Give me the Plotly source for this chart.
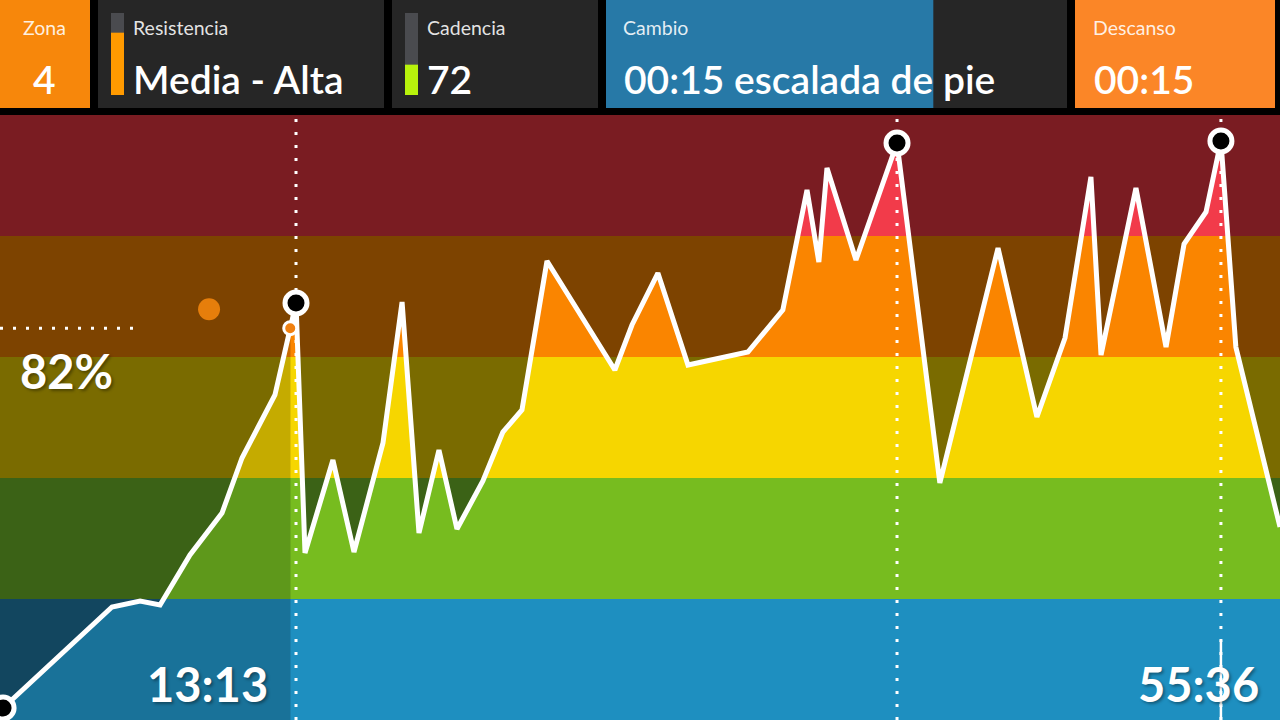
import plotly.graph_objects as go
import numpy as np

# ---------------- data ----------------
# elapsed time (minutes) and intensity (0-100 scale, 5 zones of 20)
time_min = [0.14, 5.10, 6.38, 7.29, 8.65, 10.11, 11.02, 12.52, 13.48, 13.89,
            15.16, 16.12, 17.44, 18.31, 19.08, 19.99, 20.81, 21.99, 22.90, 23.77,
            24.91, 28.00, 28.78, 29.96, 31.33, 34.06, 35.65, 36.75, 37.29, 37.66,
            38.98, 40.85, 42.80, 45.45, 47.22, 48.50, 49.68, 50.14, 51.73, 53.10,
            53.92, 54.92, 55.60, 56.28, 58.29]
intensity = [1.98, 18.68, 19.67, 19.01, 27.27, 34.21, 43.31, 53.72, 68.93, 27.60,
             42.98, 27.77, 45.79, 69.09, 30.91, 44.63, 31.57, 39.50, 47.60, 51.24,
             75.87, 57.85, 65.29, 73.88, 58.68, 60.83, 67.77, 87.60, 75.70, 91.24,
             76.03, 95.37, 39.17, 78.02, 50.08, 63.14, 89.75, 60.33, 87.93, 61.65,
             78.68, 83.97, 95.70, 61.65, 31.90]
marked_idx = [0, 8, 31, 42]          # highlighted points (start + peaks)
dotted_idx = [8, 31, 42]             # peaks with vertical guide lines
zone_edges = [0, 20, 40, 60, 80, 100]
zone_bright = ["#1E8FC0", "#77BC1F", "#F6D600", "#FA8500", "#F23B4A"]
zone_dark = ["#12465F", "#3B6216", "#7A6B00", "#7D4300", "#7A1C22"]
current_time = 13.217        # 13:13
total_time = 55.6            # 55:36
x_max = 58.29
target_time, target_level = 9.52, 67.9
guide_end_time = 6.24
cursor_top = 13.2
current_label = "82%"
elapsed_label = "13:13"
total_label = "55:36"

panel_titles = ["Zona", "Resistencia", "Cadencia", "Cambio", "Descanso"]
panel_values = ["4", "Media - Alta", "72", "00:15 escalada de pie", "00:15"]
resistencia_level = 0.76
cadencia_level = 0.37
cambio_progress = 0.71

# ---------------- helpers ----------------
W, H = 1280, 720
D = 605 / 720  # chart domain height (paper)


def px(x):
    return x / W


def py(y):
    return 1 - y / H


def rgba(hexc, a):
    h = hexc.lstrip('#')
    r, g, b = int(h[0:2], 16), int(h[2:4], 16), int(h[4:6], 16)
    return f"rgba({r},{g},{b},{a})"


t = np.array(time_min)
v = np.array(intensity)
cur_level = float(np.interp(current_time, t, v))
past_x = list(t[t < current_time]) + [current_time]
past_y = list(v[t < current_time]) + [cur_level]
fut_x = [current_time] + list(t[t > current_time])
fut_y = [cur_level] + list(v[t > current_time])

fig = go.Figure()

# zone-clipped fills (one subplot per zone)
for k in range(5):
    ax = 'y' if k == 0 else f'y{k + 1}'
    fig.add_trace(go.Scatter(x=past_x, y=past_y, xaxis='x', yaxis=ax, mode='none',
                             fill='tozeroy', fillcolor=rgba(zone_bright[k], 0.6),
                             hoverinfo='skip', showlegend=False))
    fig.add_trace(go.Scatter(x=fut_x, y=fut_y, xaxis='x', yaxis=ax, mode='none',
                             fill='tozeroy', fillcolor=zone_bright[k],
                             hoverinfo='skip', showlegend=False))

dot_line = dict(color='white', width=3, dash='3px,10px')
for i in dotted_idx:
    fig.add_trace(go.Scatter(x=[time_min[i], time_min[i]], y=[0, 100], xaxis='x', yaxis='y6',
                             mode='lines', line=dot_line, hoverinfo='skip', showlegend=False))
fig.add_trace(go.Scatter(x=[0, guide_end_time], y=[cur_level, cur_level], xaxis='x', yaxis='y6',
                         mode='lines', line=dot_line, hoverinfo='skip', showlegend=False))
fig.add_trace(go.Scatter(x=[total_time, total_time], y=[0, cursor_top], xaxis='x', yaxis='y6',
                         mode='lines', line=dict(color='white', width=2.5),
                         hoverinfo='skip', showlegend=False))

# main white line
fig.add_trace(go.Scatter(x=time_min, y=intensity, xaxis='x', yaxis='y6', mode='lines',
                         line=dict(color='white', width=5), hoverinfo='skip', showlegend=False))
# highlighted points
fig.add_trace(go.Scatter(x=[time_min[i] for i in marked_idx], y=[intensity[i] for i in marked_idx],
                         xaxis='x', yaxis='y6', mode='markers', cliponaxis=False,
                         marker=dict(size=22, color='black', line=dict(color='white', width=5)),
                         hoverinfo='skip', showlegend=False))
# current point
fig.add_trace(go.Scatter(x=[current_time], y=[cur_level], xaxis='x', yaxis='y6', mode='markers',
                         cliponaxis=False,
                         marker=dict(size=13, color='#F08010', line=dict(color='white', width=3)),
                         hoverinfo='skip', showlegend=False))
# target dot
fig.add_trace(go.Scatter(x=[target_time], y=[target_level], xaxis='x', yaxis='y6', mode='markers',
                         cliponaxis=False, marker=dict(size=22, color='#E67E0B'),
                         hoverinfo='skip', showlegend=False))

shapes = []
# zone background bands
for k in range(5):
    shapes.append(dict(type='rect', xref='paper', yref='paper', x0=0, x1=1,
                       y0=k * D / 5, y1=(k + 1) * D / 5, fillcolor=zone_dark[k],
                       line=dict(width=0), layer='below'))


def rect(x0, x1, y0, y1, color):
    shapes.append(dict(type='rect', xref='paper', yref='paper', x0=px(x0), x1=px(x1),
                       y0=py(y1), y1=py(y0), fillcolor=color, line=dict(width=0), layer='below'))


# top panels
panels = [(0, 90, '#F7870B'), (98, 384, '#262626'), (392, 598, '#262626'),
          (606, 1067, '#262626'), (1075, 1275, '#FB8627')]
for (x0, x1, c) in panels:
    rect(x0, x1, 0, 108, c)
rect(606, 606 + (1067 - 606) * cambio_progress, 0, 108, '#2779A7')
# indicator bars
rect(111, 124, 13, 95, '#4A4B4F')
rect(111, 124, 95 - 82 * resistencia_level, 95, '#FF9A00')
rect(405, 418, 13, 95, '#4A4B4F')
rect(405, 418, 95 - 82 * cadencia_level, 95, '#B8F20C')

FONT = 'Lato, "Open Sans", sans-serif'
ann = []
title_pos = [(44, 'center'), (131, 'left'), (425, 'left'), (621, 'left'), (1091, 'left')]
value_pos = [(44, 'center'), (131, 'left'), (425, 'left'), (622, 'left'), (1092, 'left')]
for i in range(5):
    ann.append(dict(text=panel_titles[i], x=px(title_pos[i][0]), y=py(28), xref='paper', yref='paper',
                    xanchor=title_pos[i][1], yanchor='middle', showarrow=False,
                    font=dict(family=FONT, size=19.5, color='rgba(255,255,255,0.88)')))
    ann.append(dict(text=panel_values[i], x=px(value_pos[i][0]), y=py(79), xref='paper', yref='paper',
                    xanchor=value_pos[i][1], yanchor='middle', showarrow=False,
                    font=dict(family=FONT, size=39, color='white', weight=600)))

shadow = '2px 2px 3px rgba(0,0,0,0.35)'
ann.append(dict(text=current_label, x=px(18), y=py(371), xref='paper', yref='paper',
                xanchor='left', yanchor='middle', showarrow=False,
                font=dict(family=FONT, size=47, color='white', weight='bold', shadow=shadow)))
ann.append(dict(text=elapsed_label, x=px(270), y=py(684), xref='paper', yref='paper',
                xanchor='right', yanchor='middle', showarrow=False,
                font=dict(family=FONT, size=47, color='white', weight='bold', shadow=shadow)))
ann.append(dict(text=total_label, x=px(1261), y=py(684), xref='paper', yref='paper',
                xanchor='right', yanchor='middle', showarrow=False,
                font=dict(family=FONT, size=47, color='white', weight='bold', shadow=shadow)))

layout = dict(
    width=W, height=H, margin=dict(l=0, r=0, t=0, b=0, pad=0),
    paper_bgcolor='black', plot_bgcolor='rgba(0,0,0,0)',
    showlegend=False, shapes=shapes, annotations=ann,
    xaxis=dict(domain=[0, 1], range=[0, x_max], visible=False, fixedrange=True, anchor='y6'),
    hovermode=False,
)
for k in range(5):
    name = 'yaxis' if k == 0 else f'yaxis{k + 1}'
    layout[name] = dict(domain=[k * D / 5, (k + 1) * D / 5], range=[zone_edges[k], zone_edges[k + 1]],
                        visible=False, fixedrange=True, anchor='x')
layout['yaxis6'] = dict(domain=[0, D], range=[0, 100], visible=False, fixedrange=True, anchor='x')
fig.update_layout(**layout)

fig.write_html("out.html", config={'displayModeBar': False})
